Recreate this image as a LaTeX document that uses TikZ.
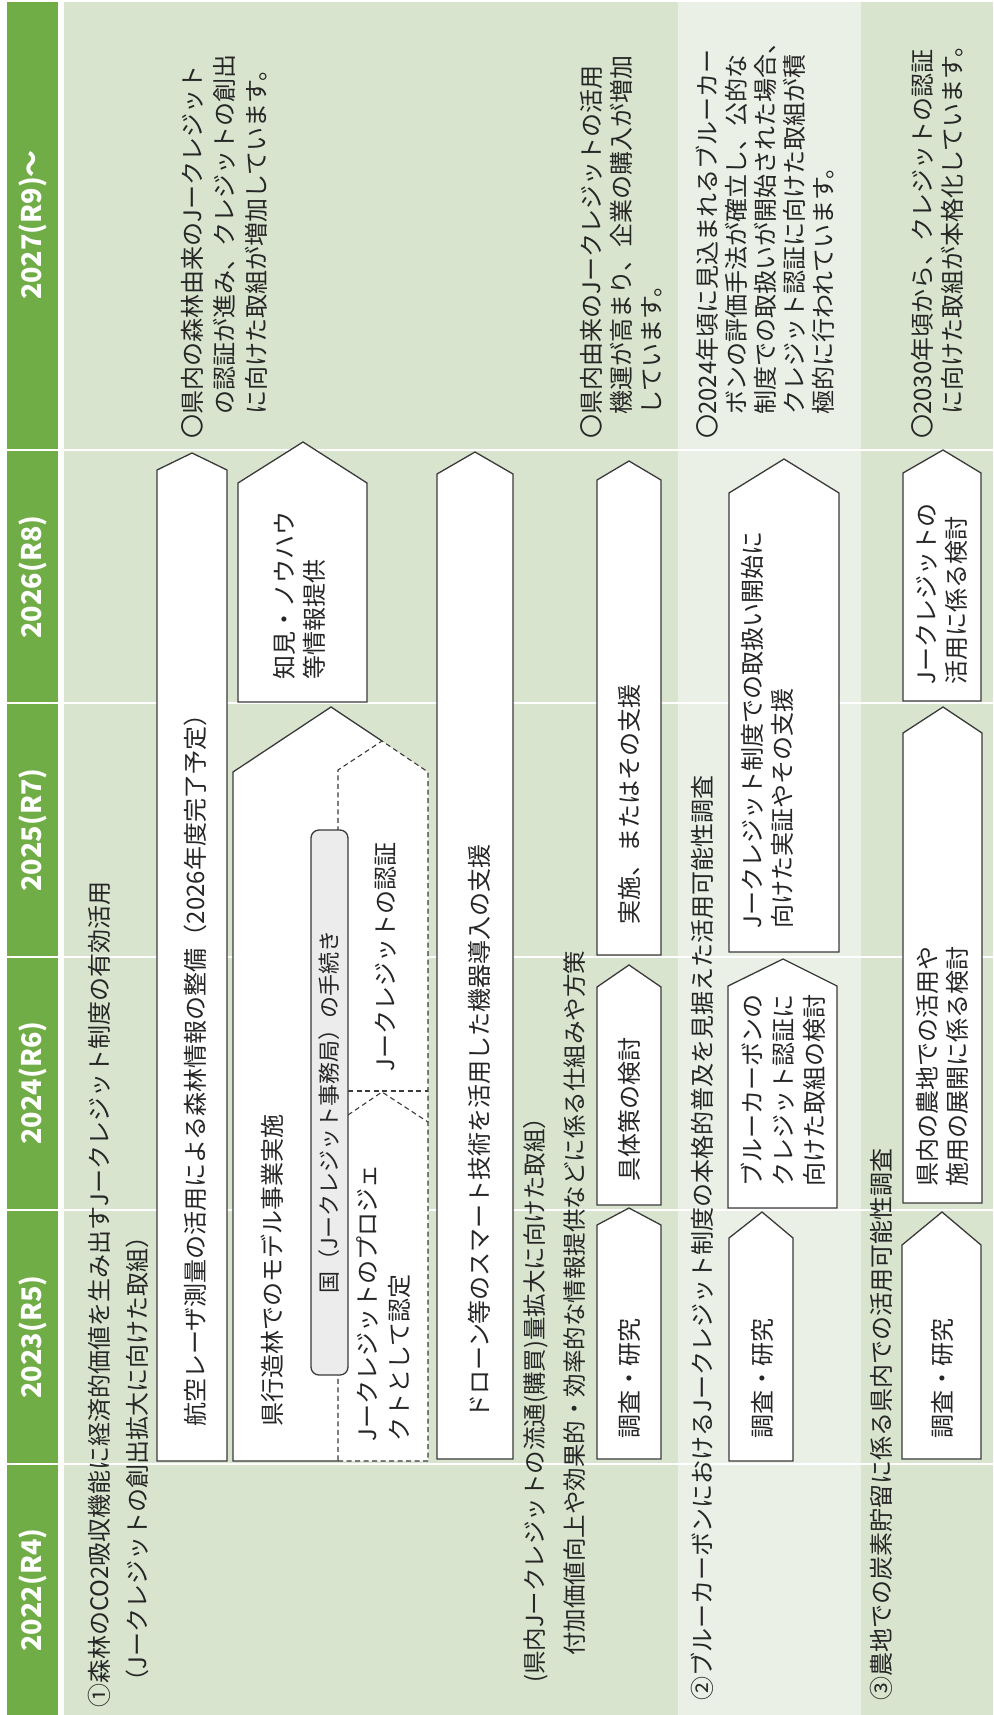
\documentclass[tikz,border=0pt]{standalone}
\usepackage{fontspec}
\setmainfont{Noto Sans CJK JP}
\usepackage{tikz}

\definecolor{headgreen}{HTML}{70AD47}
\definecolor{bandgreen}{HTML}{D8E4CE}
\definecolor{bandpale}{HTML}{EBF0E7}
\definecolor{boxline}{HTML}{3A3A3A}
\definecolor{procgray}{HTML}{ECECEC}

\tikzset{
  yearlabel/.style={rotate=90, text=white, font=\fontsize{27}{30}\selectfont\bfseries},
  boxshape/.style={fill=white, draw=boxline, line width=1.3pt},
  dashline/.style={draw=boxline, line width=1.1pt, dash pattern=on 5pt off 3.5pt},
  vtext/.style={rotate=90, anchor=north west, align=left, inner sep=0pt, text=black!85, font=\fontsize{24}{30}\selectfont},
  vline/.style={rotate=90, anchor=west, inner sep=0pt, text=black!85, font=\fontsize{24}{30}\selectfont},
  headtext/.style={vtext, font=\fontsize{24}{38}\selectfont},
}

\begin{document}
\begin{tikzpicture}[x=1pt, y=-1pt]
        \useasboundingbox (0,0) rectangle (993,1715);
        \fill[white] (0,0) rectangle (993,1715);

        % background bands
        \fill[headgreen] (7,2) rectangle (58,1715);
        \fill[bandgreen] (64,2) rectangle (993,1715);
        \fill[bandpale] (678,2) rectangle (861,1715);
        \foreach \yy in {450,703,957,1210,1464}
            \draw[white, line width=1.5pt] (7,\yy) -- (993,\yy);

        % years
        \node[yearlabel] (y2027) at (33,225) {2027(R9)～};
        \node[yearlabel] (y2026) at (33,577) {2026(R8)};
        \node[yearlabel] (y2025) at (33,830) {2025(R7)};
        \node[yearlabel] (y2024) at (33,1083) {2024(R6)};
        \node[yearlabel] (y2023) at (33,1337) {2023(R5)};
        \node[yearlabel] (y2022) at (33,1590) {2022(R4)};

        % section 1 boxes
        \filldraw[boxshape] (157,1461) -- (157,470) -- (192,453) -- (227,470) -- (227,1461) -- cycle;
        \fill[white] (233,1461) -- (233,772) -- (331,707) -- (428,772) -- (428,1461) -- cycle;
        \draw[boxshape, fill=none] (338,1461) -- (233,1461) -- (233,772) -- (331,707) -- (382,741);
        \draw[dashline] (338,1461) -- (428,1461) -- (428,772) -- (382,741) -- (338,770) -- cycle;
        \draw[dashline] (348,1091) -- (428,1091);
        \draw[dashline] (348,1115) -- (382,1092) -- (428,1122);
        \filldraw[fill=procgray, draw=boxline, line width=1.3pt, rounded corners=8pt] (311,830) rectangle (348,1375);
        \filldraw[boxshape] (238,702) -- (238,483) -- (303,442) -- (367,483) -- (367,702) -- cycle;
        \filldraw[boxshape] (437,1459) -- (437,474) -- (475,452) -- (513,474) -- (513,1459) -- cycle;
        \filldraw[boxshape] (597,1459) -- (597,1225) -- (629,1208) -- (661,1225) -- (661,1459) -- cycle;
        \filldraw[boxshape] (597,1205) -- (597,987) -- (629,965) -- (661,987) -- (661,1205) -- cycle;
        \filldraw[boxshape] (597,955) -- (597,480) -- (629,461) -- (661,480) -- (661,955) -- cycle;

        % section 2 boxes
        \filldraw[boxshape] (729,1461) -- (729,1238) -- (762,1212) -- (793,1238) -- (793,1461) -- cycle;
        \filldraw[boxshape] (728,1208) -- (728,986) -- (783,959) -- (837,986) -- (837,1208) -- cycle;
        \filldraw[boxshape] (729,952) -- (729,493) -- (784,459) -- (839,493) -- (839,952) -- cycle;

        % section 3 boxes
        \filldraw[boxshape] (902,1459) -- (902,1245) -- (942,1212) -- (981,1245) -- (981,1459) -- cycle;
        \filldraw[boxshape] (903,1203) -- (903,733) -- (943,707) -- (982,733) -- (982,1203) -- cycle;
        \filldraw[boxshape] (903,701) -- (903,473) -- (943,450) -- (981,473) -- (981,701) -- cycle;

        % headings
        \node[headtext] (head1) at (88,1708) {①森林のCO2吸収機能に経済的価値を生み出すJークレジット制度の有効活用\\\hspace*{0.6em}（Jークレジットの創出拡大に向けた取組）};
        \node[headtext, font=\fontsize{23.5}{40}\selectfont] (head1b) at (523,1683) {(県内Jークレジットの流通(購買)量拡大に向けた取組）\\\hspace*{1.15em}付加価値向上や効果的・効率的な情報提供などに係る仕組みや方策};
        \node[headtext] (head2) at (691,1701) {②ブルーカーボンにおけるJークレジット制度の本格的普及を見据えた活用可能性調査};
        \node[headtext] (head3) at (870,1701) {③農地での炭素貯留に係る県内での活用可能性調査};

        % section 1 texts
        \node[vline] (lidar) at (195,1427) {航空レーザ測量の活用による森林情報の整備（2026年度完了予定）};
        \node[vline] (model) at (272,1427) {県行造林でのモデル事業実施};
        \node[vline, font=\fontsize{22}{26}\selectfont] (proc) at (329,1294) {国（Jークレジット事務局）の手続き};
        \node[vline] (cert) at (386,1072) {Jークレジットの認証};
        \node[vtext, font=\fontsize{24}{32}\selectfont] (proj) at (356,1442) {Jークレジットのプロジェ\\クトとして認定};
        \node[vtext] (know) at (273,680) {知見・ノウハウ\\等情報提供};
        \node[vline] (drone) at (479,1419) {ドローン等のスマート技術を活用した機器導入の支援};
        \node[vline] (survA) at (629,1439) {調査・研究};
        \node[vline] (planA) at (629,1182) {具体策の検討};
        \node[vline] (implA) at (629,925) {実施、またはその支援};

        % section 2 texts
        \node[vline] (survB) at (762,1439) {調査・研究};
        \node[vtext, font=\fontsize{24}{31}\selectfont] (blueB) at (741,1187) {ブルーカーボンの\\クレジット認証に\\向けた取組の検討};
        \node[vtext] (trialB) at (741,929) {Jークレジット制度での取扱い開始に\\向けた実証やその支援};

        % section 3 texts
        \node[vline] (survC) at (942,1439) {調査・研究};
        \node[vtext] (farmC) at (916,1187) {県内の農地での活用や\\施用の展開に係る検討};
        \node[vtext] (jcrC) at (916,685) {Jークレジットの\\活用に係る検討};

        % 2027 notes
        \node[vtext, font=\fontsize{24}{32}\selectfont] (note1) at (181,439) {〇県内の森林由来のJークレジット\\　の認証が進み、クレジットの創出\\　に向けた取組が増加しています。};
        \node[vtext] (note2) at (580,439) {〇県内由来のJークレジットの活用\\　機運が高まり、企業の購入が増加\\　しています。};
        \node[vtext, font=\fontsize{24}{29}\selectfont] (note3) at (696,439) {〇2024年頃に見込まれるブルーカー\\　ボンの評価手法が確立し、公的な\\　制度での取扱いが開始された場合、\\　クレジット認証に向けた取組が積\\　極的に行われています。};
        \node[vtext] (note4) at (911,439) {〇2030年頃から、クレジットの認証\\　に向けた取組が本格化しています。};
    \end{tikzpicture}
\end{document}
